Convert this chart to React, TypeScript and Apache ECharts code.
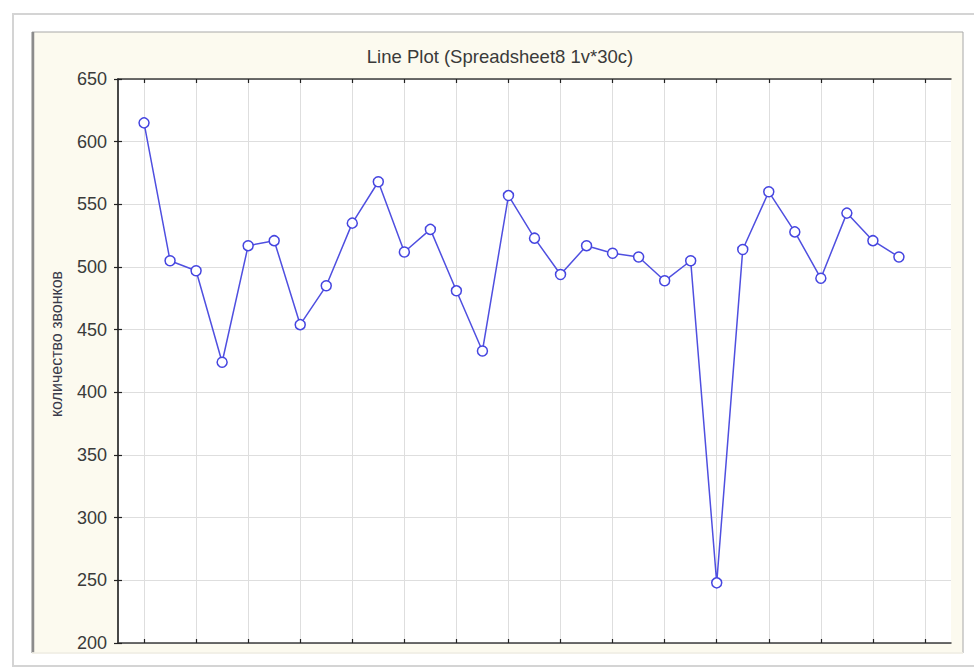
import React, { useEffect, useRef } from "react";
import * as echarts from "echarts";

const titleText = "Line Plot (Spreadsheet8 1v*30c)";
const yAxisName = "количество звонков";
const caseNumbers = [1, 2, 3, 4, 5, 6, 7, 8, 9, 10, 11, 12, 13, 14, 15, 16, 17, 18, 19, 20, 21, 22, 23, 24, 25, 26, 27, 28, 29, 30];
const callCounts = [615, 505, 497, 424, 517, 521, 454, 485, 535, 568, 512, 530, 481, 433, 557, 523, 494, 517, 511, 508, 489, 505, 248, 514, 560, 528, 491, 543, 521, 508];
const xTickValues = [1, 3, 5, 7, 9, 11, 13, 15, 17, 19, 21, 23, 25, 27, 29, 31];
const yMin = 200;
const yMax = 650;
const yStep = 50;
const xMin = 0;
const xMax = 32;

const FONT = "'Liberation Sans', Arial, sans-serif";

export default function App() {
  const ref = useRef<HTMLDivElement>(null);

  useEffect(() => {
    if (!ref.current) return;
    const chart = echarts.init(ref.current, undefined, { renderer: "svg" });
    const seriesData = caseNumbers.map((c, i) => [c, callCounts[i]]);

    const xAxisBase = {
      type: "value",
      min: xMin,
      max: xMax,
      axisLine: { show: true, lineStyle: { color: "#3c3c3c", width: 1.5 } },
      axisTick: {
        show: true,
        inside: true,
        length: 4,
        customValues: xTickValues,
        lineStyle: { color: "#222", width: 1.2 },
      },
      axisLabel: { show: false },
    };

    const yAxisBase = {
      type: "value",
      min: yMin,
      max: yMax,
      interval: yStep,
      axisLine: { show: true, lineStyle: { color: "#3c3c3c", width: 1.5 } },
      axisTick: { show: true, inside: true, length: 4, lineStyle: { color: "#222", width: 1.2 } },
    };

    chart.setOption({
      animation: false,
      backgroundColor: "#ffffff",
      textStyle: { fontFamily: FONT },
      grid: {
        left: 118,
        top: 79,
        right: 23,
        bottom: 25,
        show: true,
        backgroundColor: "#ffffff",
        borderWidth: 0,
      },
      graphic: [
        {
          type: "rect",
          z: -20,
          shape: { x: 13, y: 14, width: 975, height: 652 },
          style: { fill: "#ffffff", stroke: "#d4d4d4", lineWidth: 2 },
        },
        {
          type: "rect",
          z: -15,
          shape: { x: 32, y: 32, width: 931, height: 621 },
          style: { fill: "#fcfaef", stroke: "#a8a8a8", lineWidth: 1 },
        },
        {
          type: "line",
          z: -14,
          shape: { x1: 33, y1: 32, x2: 33, y2: 653 },
          style: { stroke: "#8c8c8c", lineWidth: 2.5 },
        },
        {
          type: "line",
          z: -14,
          shape: { x1: 32, y1: 653, x2: 963, y2: 653 },
          style: { stroke: "#fcfaef", lineWidth: 1.5 },
        },
        {
          type: "text",
          x: 500,
          y: 56,
          style: {
            text: titleText,
            fill: "#3a3a3a",
            font: `18.5px ${FONT}`,
            textAlign: "center",
            textVerticalAlign: "middle",
          },
        },
        {
          type: "text",
          x: 56,
          y: 344,
          rotation: Math.PI / 2,
          style: {
            text: yAxisName,
            fill: "#3a3a4a",
            font: `16px ${FONT}`,
            textAlign: "center",
            textVerticalAlign: "middle",
          },
        },
      ],
      xAxis: [
        {
          ...xAxisBase,
          position: "bottom",
          splitLine: { show: true, lineStyle: { color: "#dedede", width: 1 } },
        },
        {
          ...xAxisBase,
          position: "top",
          splitLine: { show: false },
        },
      ],
      yAxis: [
        {
          ...yAxisBase,
          position: "left",
          axisLabel: { show: true, fontSize: 18, color: "#3a3a3a", margin: 11, fontFamily: FONT },
          splitLine: { show: true, lineStyle: { color: "#dedede", width: 1 } },
        },
        {
          ...yAxisBase,
          position: "right",
          axisLabel: { show: false },
          splitLine: { show: false },
        },
      ],
      series: [
        {
          type: "line",
          xAxisIndex: 0,
          yAxisIndex: 0,
          data: seriesData,
          symbol: "circle",
          symbolSize: 10,
          showSymbol: true,
          lineStyle: { color: "#4f4fe0", width: 1.5 },
          itemStyle: { color: "#ffffff", borderColor: "#4545e0", borderWidth: 1.5 },
          z: 3,
        },
      ],
    });

    return () => chart.dispose();
  }, []);

  return (
    <div
      ref={ref}
      style={{ position: "absolute", left: 0, top: 0, width: 974, height: 668 }}
    />
  );
}
